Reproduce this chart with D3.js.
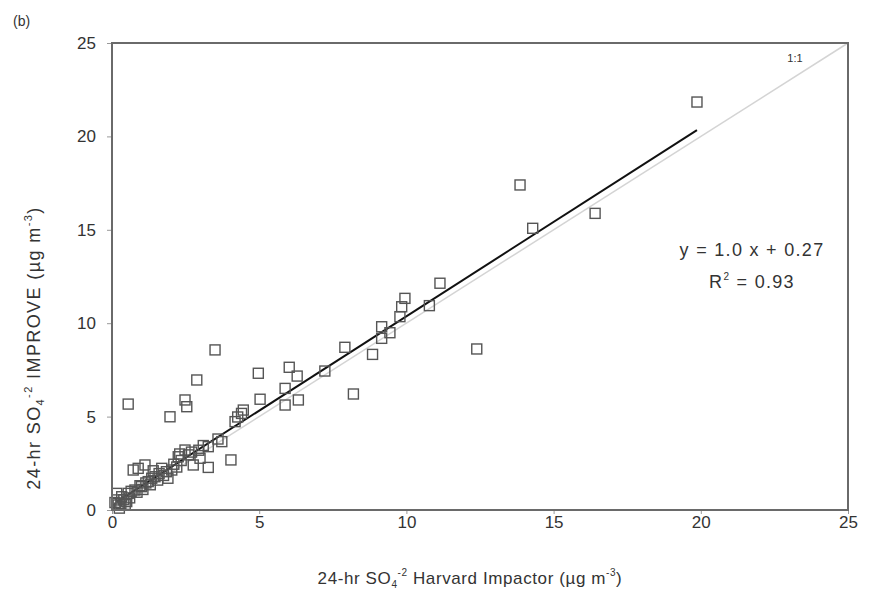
<!DOCTYPE html>
<html>
<head>
<meta charset="utf-8">
<script src="https://cdn.jsdelivr.net/npm/d3@7"></script>
<style>
  body { margin: 0; background: #fff; }
  text { font-family: "Liberation Sans", Arial, sans-serif; fill: #333; }
</style>
</head>
<body>
<div class="PlotHolder"></div>
<script>
// 24-hr SO4 Harvard Impactor (x) vs IMPROVE (y), ug/m3
const harvard = [
  19.87, 13.86, 16.41, 14.29, 11.14, 9.95, 9.84, 9.78, 10.78, 9.44, 9.16, 9.16,
  12.39, 7.91, 8.85, 7.23, 4.97, 6.02, 6.29, 5.88, 8.20, 5.03, 5.88, 6.33,
  4.46, 4.27, 3.50, 2.88, 2.48, 2.54, 1.97, 0.55, 4.40, 4.18, 3.73, 3.27,
  4.04, 3.27, 2.99, 2.76, 2.48, 2.25, 2.03, 1.69, 0.89, 0.72, 1.12, 1.46,
  1.23, 1.00, 0.78, 0.55, 0.33, 0.16, 0.16, 0.21,
  0.30, 0.40, 0.45, 0.60, 0.65, 0.85, 0.95, 1.05, 1.15, 1.30, 1.35, 1.55,
  1.60, 1.75, 1.85, 1.90, 2.10, 2.20, 2.35, 2.60, 2.70, 2.95, 3.10, 3.60,
  0.25, 0.50, 0.10, 1.40, 2.30
];
const improve = [
  21.84, 17.40, 15.88, 15.08, 12.14, 11.33, 10.88, 10.35, 10.94, 9.49, 9.19, 9.81,
  8.62, 8.71, 8.33, 7.44, 7.32, 7.64, 7.17, 6.51, 6.21, 5.93, 5.62, 5.89,
  5.35, 4.98, 8.57, 6.96, 5.89, 5.53, 4.99, 5.67, 5.17, 4.73, 3.66, 3.39,
  2.68, 2.28, 2.77, 2.41, 3.21, 2.85, 2.14, 2.23, 2.23, 2.14, 2.41, 1.78,
  1.52, 1.25, 1.07, 0.89, 0.71, 0.89, 0.54, 0.27,
  0.35, 0.55, 0.30, 0.65, 1.00, 0.95, 1.30, 1.10, 1.45, 1.35, 1.70, 1.60,
  1.95, 1.85, 2.05, 1.70, 2.45, 2.30, 2.65, 2.95, 3.10, 3.20, 3.45, 3.80,
  0.10, 0.45, 0.40, 2.10, 3.00
];
const tickValues = [0, 5, 10, 15, 20, 25];
const fitSlope = 1.01;
const fitIntercept = 0.27;
const equationText = "y = 1.0 x + 0.27";

const points = harvard.map((x, i) => ({ x: x, y: improve[i] }));

const w = 875, h = 603;
const margin = { top: 43, right: 27, bottom: 93, left: 112 };
const width = w - margin.left - margin.right;
const height = h - margin.top - margin.bottom;

const root = d3.select(".PlotHolder").append("svg")
  .attr("width", w)
  .attr("height", h);

const svg = root.append("g")
  .attr("transform", `translate(${margin.left},${margin.top})`);

const xScale = d3.scaleLinear().domain([0, 25]).range([0, width]);
const yScale = d3.scaleLinear().domain([0, 25]).range([height, 0]);

// axes
const xAxis = svg.append("g")
  .attr("transform", `translate(0,${height})`)
  .call(d3.axisBottom(xScale).tickValues(tickValues).tickSize(4).tickPadding(2));
const yAxis = svg.append("g")
  .call(d3.axisLeft(yScale).tickValues(tickValues).tickSize(5).tickPadding(11));

[xAxis, yAxis].forEach(ax => {
  ax.select(".domain").remove();
  ax.selectAll(".tick line").attr("stroke", "#999").attr("stroke-width", 1);
  ax.selectAll(".tick text")
    .attr("font-size", 17)
    .attr("fill", "#2e2e2e")
    .style("font-family", "'Liberation Sans', Arial, sans-serif");
});

// 1:1 line
svg.append("line")
  .attr("x1", xScale(0)).attr("y1", yScale(0))
  .attr("x2", xScale(25)).attr("y2", yScale(25))
  .attr("stroke", "#d4d4d4")
  .attr("stroke-width", 1.5);

svg.append("text")
  .attr("x", xScale(23.2))
  .attr("y", yScale(24.0))
  .attr("font-size", 11)
  .attr("text-anchor", "middle")
  .text("1:1");

// regression line
const xMax = d3.max(harvard);
svg.append("line")
  .attr("x1", xScale(0.15)).attr("y1", yScale(fitSlope * 0.15 + fitIntercept))
  .attr("x2", xScale(xMax)).attr("y2", yScale(fitSlope * xMax + fitIntercept))
  .attr("stroke", "#111")
  .attr("stroke-width", 2);

// squares
const s = 10;
svg.selectAll("rect.pt")
  .data(points)
  .enter()
  .append("rect")
  .attr("class", "pt")
  .attr("x", d => xScale(d.x) - s / 2)
  .attr("y", d => yScale(d.y) - s / 2)
  .attr("width", s)
  .attr("height", s)
  .attr("fill", "none")
  .attr("stroke", "#555")
  .attr("stroke-width", 1.4);

// frame
svg.append("rect")
  .attr("x", 0).attr("y", 0)
  .attr("width", width).attr("height", height)
  .attr("fill", "none")
  .attr("stroke", "#6a6a6a")
  .attr("stroke-width", 2);

// equation
svg.append("text")
  .attr("x", xScale(21.74))
  .attr("y", yScale(13.6))
  .attr("font-size", 18)
  .attr("letter-spacing", 1.3)
  .attr("text-anchor", "middle")
  .text(equationText);

const r2 = svg.append("text")
  .attr("x", xScale(21.74))
  .attr("y", yScale(11.9))
  .attr("font-size", 18)
  .attr("letter-spacing", 1.3)
  .attr("text-anchor", "middle");
r2.append("tspan").text("R");
r2.append("tspan").attr("font-size", 10).attr("dy", -8).text("2");
r2.append("tspan").attr("dy", 8).text(" = 0.93");

// axis titles
const xt = root.append("text")
  .attr("x", 470)
  .attr("y", 584)
  .attr("font-size", 17)
  .attr("letter-spacing", 0.6)
  .attr("text-anchor", "middle");
xt.append("tspan").text("24-hr SO");
xt.append("tspan").attr("font-size", 10).attr("dy", 4).text("4");
xt.append("tspan").attr("font-size", 10).attr("dy", -12).text("-2");
xt.append("tspan").attr("dy", 8).text(" Harvard Impactor (\u00b5g m");
xt.append("tspan").attr("font-size", 10).attr("dy", -8).text("-3");
xt.append("tspan").attr("dy", 8).text(")");

const yt = root.append("text")
  .attr("transform", "translate(40,348) rotate(-90)")
  .attr("font-size", 18)
  .attr("letter-spacing", 1.4)
  .attr("text-anchor", "middle");
yt.append("tspan").text("24-hr SO");
yt.append("tspan").attr("font-size", 11).attr("dy", 4).text("4");
yt.append("tspan").attr("font-size", 11).attr("dy", -12).text("-2");
yt.append("tspan").attr("dy", 8).text(" IMPROVE (\u00b5g m");
yt.append("tspan").attr("font-size", 11).attr("dy", -8).text("-3");
yt.append("tspan").attr("dy", 8).text(")");

// panel label
root.append("text")
  .attr("x", 13)
  .attr("y", 26)
  .attr("font-size", 14)
  .text("(b)");
</script>
</body>
</html>
